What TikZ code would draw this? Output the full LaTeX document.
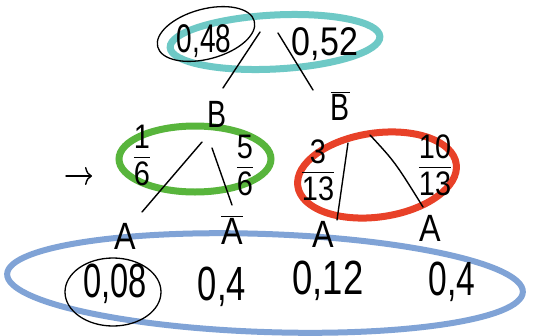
\documentclass[tikz,border=0pt]{standalone}
\usepackage{fontspec}
\setmainfont{Liberation Sans}
\usepackage{graphicx}
\usetikzlibrary{arrows.meta}
\setlength{\arrayrulewidth}{1.4pt}
% narrow, tall handwriting-like glyphs
\newcommand\hw[2][0.75]{\scalebox{#1}[1]{#2}}
% stacked fraction with a drawn bar
\newcommand\frc[2]{\begin{tabular}{@{}c@{}}#1\\[-2pt]\hline\rule{0pt}{0.8em}#2\end{tabular}}
\definecolor{tealc}{RGB}{110,201,198}
\definecolor{greenc}{RGB}{88,181,60}
\definecolor{redc}{RGB}{232,65,40}
\definecolor{bluec}{RGB}{128,163,214}
\begin{document}
\begin{tikzpicture}[x=1pt,y=-1pt,
  ring/.style={line width=7pt},
  loop/.style={line width=1.3pt},
  edge/.style={line width=1.4pt,line cap=round},
  prob/.style={inner sep=0pt,font=\fontsize{40}{40}\selectfont},
  letter/.style={inner sep=0pt,font=\fontsize{38}{38}\selectfont},
  fracn/.style={inner sep=0pt,font=\fontsize{34}{34}\selectfont},
  val/.style={inner sep=0pt,font=\fontsize{48}{48}\selectfont}]
\useasboundingbox (0,0) rectangle (551,335);
\fill[white] (0,0) rectangle (551,335);

% coloured groupings
\draw[ring,tealc,rotate around={3:(275,42)}] (275,42) ellipse [x radius=105pt,y radius=27pt];
\draw[ring,greenc] (195,159) ellipse [x radius=76pt,y radius=33pt];
\draw[ring,redc,rotate around={8:(377,175)}] (377,175) ellipse [x radius=80pt,y radius=42pt];
\draw[line width=6pt,bluec,rotate around={-2:(265,283)}] (265,283) ellipse [x radius=258pt,y radius=49pt];

% first level probabilities
\node[prob] (p48) at (204,41) {\hw[0.7]{0,48}};
\node[prob] (p52) at (325,44) {\hw[0.85]{0,52}};
\draw[loop,rotate around={15:(206,34)}] (206,34) ellipse [x radius=50pt,y radius=25pt];

% first level events
\node[letter] (B) at (217,114) {\hw{B}};
\node[letter] (Bn) at (340,106) {\hw{$\overline{\mbox{B}}$}};

% second level conditional probabilities
\node[fracn] (f16) at (142,160) {\hw[0.85]{\frc{1}{6}}};
\node[fracn] (f56) at (245,170) {\hw[0.85]{\frc{5}{6}}};
\node[fracn] (f313) at (318,175) {\hw[0.85]{\frc{3}{13}}};
\node[fracn] (f1013) at (435,170) {\hw[0.85]{\frc{10}{13}}};

% leaves
\node[letter] (A1) at (125,236) {\hw[0.85]{A}};
\node[letter] (A2) at (232,230) {\hw[0.85]{$\overline{\mbox{A}}$}};
\node[letter] (A3) at (323,234) {\hw[0.85]{A}};
\node[letter] (A4) at (430,228) {\hw[0.85]{A}};

% path probabilities
\node[val] (v1) at (115,284) {\hw[0.68]{0,08}};
\node[val] (v2) at (222,287) {\hw[0.72]{0,4}};
\node[val] (v3) at (328,281) {\hw[0.76]{0,12}};
\node[val] (v4) at (452,282) {\hw[0.7]{0,4}};
\draw[loop] (113,292) ellipse [x radius=48pt,y radius=34pt];

% branch ends
\coordinate (tl1) at (260,32);  \coordinate (tl2) at (223,88);
\coordinate (tr1) at (278,33);  \coordinate (tr2) at (313,90);
\coordinate (bl1) at (202,142); \coordinate (bl2) at (142,212);
\coordinate (br1) at (212,148); \coordinate (br2) at (232,205);
\coordinate (nl1) at (348,143); \coordinate (nl2) at (337,220);
\coordinate (nr1) at (370,135); \coordinate (nr2) at (423,207);
\draw[edge] (tl1) -- (tl2);
\draw[edge] (tr1) -- (tr2);
\draw[edge] (bl1) -- (bl2);
\draw[edge] (br1) -- (br2);
\draw[edge] (nl1) -- (nl2);
\draw[edge] (nr1) .. controls (395,162) .. (nr2);

% pointer
\coordinate (arA) at (66,176);
\coordinate (arB) at (92,176);
\draw[edge,-{To[length=7pt,width=18pt]}] (arA) -- (arB);
\end{tikzpicture}
\end{document}
